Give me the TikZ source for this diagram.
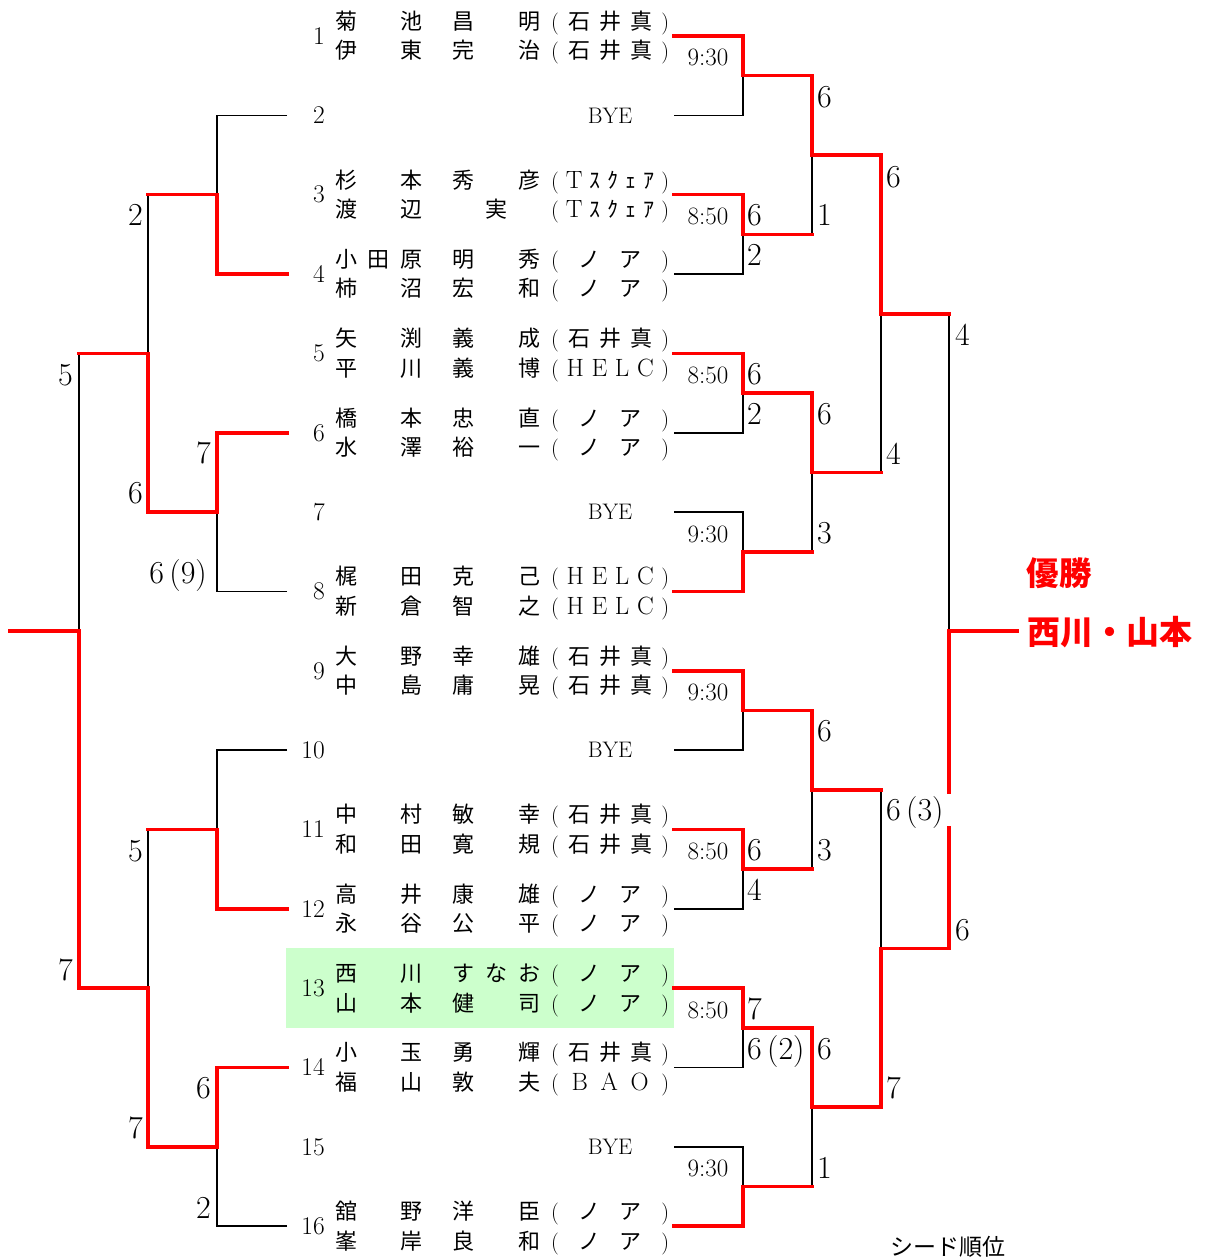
\documentclass[tikz,border=0pt]{standalone}
\usepackage{fontspec}
\newfontfamily\cjk{Noto Sans CJK JP}
\definecolor{winred}{RGB}{255,0,0}
\definecolor{seedgreen}{RGB}{204,255,204}
\newcommand\latn[1]{{\normalfont #1}}
\newcommand\latb[1]{{\normalfont\fontsize{25}{25}\selectfont #1}}
\newcommand\nmrow[3]{\makebox[87pt][s]{#1}\hspace{30pt}\makebox[88pt][s]{#2}\hspace{11pt}\makebox[118pt][s]{#3}}
\newcommand\clIs{\latn{(}\hfill 石\hfill 井\hfill 真\hfill\latn{)}}
\newcommand\clNo{\latn{(}\hfill ノ\hfill ア\hfill\latn{)}}
\newcommand\clHe{\latn{(}\hfill\latb{H}\hfill\latb{E}\hfill\latb{L}\hfill\latb{C}\hfill\latn{)}}
\newcommand\clTs{\latn{(}\hfill\latb{T}\hfill ｽ\hfill ｸ\hfill ｪ\hfill ｱ\hfill\latn{)}}
\newcommand\clBa{\latn{(}\hfill\latb{B}\hfill\latb{A}\hfill\latb{O}\hfill\latn{)}}
\tikzset{
  nm/.style={anchor=base west, inner sep=0pt, font=\cjk\fontsize{22}{22}\selectfont},
  num/.style={anchor=base east, inner sep=0pt, font=\fontsize{25.5}{25.5}\selectfont},
  byelab/.style={anchor=base, inner sep=0pt, font=\fontsize{22.5}{22.5}\selectfont},
  tm/.style={anchor=base, inner sep=0pt, font=\fontsize{25}{25}\selectfont},
  scr/.style={anchor=base west, inner sep=0pt, font=\fontsize{32}{32}\selectfont},
  scl/.style={anchor=base east, inner sep=0pt, font=\fontsize{32}{32}\selectfont},
  blk/.style={draw=black, line width=1.6pt},
  win/.style={draw=winred, line width=3.6pt, line cap=rect},
}
\newcommand\entpair[7]{%
  \pgfmathsetmacro\yk{36+79.35*(#1-1)}%
  \node[nm] (n#1a) at (335,\yk-6.6) {\nmrow{#2}{#3}{#4}};
  \node[nm] (n#1b) at (335,\yk+22.9) {\nmrow{#5}{#6}{#7}};
  \node[num] (k#1) at (325,\yk+8.3) {#1};
}
\newcommand\entbye[1]{%
  \pgfmathsetmacro\yk{36+79.35*(#1-1)}%
  \node[byelab] (b#1) at (610,\yk+7.7) {BYE};
  \node[num] (k#1) at (325,\yk+8.3) {#1};
}
\begin{document}
\begin{tikzpicture}[x=1pt,y=-1pt]
\useasboundingbox (0,0) rectangle (1204,1260);
\fill[white] (0,0) rectangle (1204,1260);
% seed highlight
\fill[seedgreen] (286,948) rectangle (674,1028);
% entry end points
\foreach \k in {1,...,16}{
  \pgfmathsetmacro\yy{36+79.35*(\k-1)}
  \coordinate (R\k) at (674,\yy);
  \coordinate (L\k) at (287,\yy);
}
% right side match points
\coordinate (A) at (743,75.7);
\coordinate (B) at (743,234.4);
\coordinate (C) at (743,393.1);
\coordinate (D) at (743,551.8);
\coordinate (E) at (743,710.5);
\coordinate (F) at (743,869.2);
\coordinate (G) at (743,1027.9);
\coordinate (H) at (743,1186.6);
\coordinate (AB) at (812,155.05);
\coordinate (CD) at (812,472.45);
\coordinate (EF) at (812,789.85);
\coordinate (GH) at (812,1107.25);
\coordinate (T) at (881,313.75);
\coordinate (U) at (881,948.55);
\coordinate (W) at (949,631.15);
\coordinate (Champ) at (1017,631.15);
\coordinate (gapA) at (949,828);
\coordinate (gapB) at (949,792);
% left side match points
\coordinate (La) at (217,194.7);
\coordinate (Lb) at (217,512.1);
\coordinate (Lc) at (217,829.5);
\coordinate (Ld) at (217,1146.9);
\coordinate (Lab) at (148,353.4);
\coordinate (Lcd) at (148,988.2);
\coordinate (LW) at (79,631.1);
\coordinate (LC) at (10,631.1);
% ---- black (losing) lines
\draw[blk] (R2) -| (A);
\draw[blk] (R4) -| (B);
\draw[blk] (R6) -| (C);
\draw[blk] (R7) -| (D);
\draw[blk] (R10) -| (E);
\draw[blk] (R12) -| (F);
\draw[blk] (R14) -| (G);
\draw[blk] (R15) -| (H);
\draw[blk] (B -| AB) -- (AB);
\draw[blk] (D -| CD) -- (CD);
\draw[blk] (F -| EF) -- (EF);
\draw[blk] (H -| GH) -- (GH);
\draw[blk] (CD -| T) -- (T);
\draw[blk] (EF -| U) -- (U);
\draw[blk] (T -| W) -- (W);
\draw[blk] (L2) -| (La);
\draw[blk] (L8) -| (Lb);
\draw[blk] (L10) -| (Lc);
\draw[blk] (L16) -| (Ld);
\draw[blk] (La -| Lab) -- (Lab);
\draw[blk] (Lc -| Lcd) -- (Lcd);
\draw[blk] (Lab -| LW) -- (LW);
% ---- red (winning) lines
\draw[win] (R1) -| (A) -- (A -| AB);
\draw[win] (R3) -| (B) -- (B -| AB);
\draw[win] (R5) -| (C) -- (C -| CD);
\draw[win] (R8) -| (D) -- (D -| CD);
\draw[win] (R9) -| (E) -- (E -| EF);
\draw[win] (R11) -| (F) -- (F -| EF);
\draw[win] (R13) -| (G) -- (G -| GH);
\draw[win] (R16) -| (H) -- (H -| GH);
\draw[win] (A -| AB) -- (AB) -- (AB -| T);
\draw[win] (C -| CD) -- (CD) -- (CD -| T);
\draw[win] (E -| EF) -- (EF) -- (EF -| U);
\draw[win] (G -| GH) -- (GH) -- (GH -| U);
\draw[win] (AB -| T) -- (T) -- (T -| W);
\draw[win] (GH -| U) -- (U) -- (U -| W);
\draw[win] (U -| W) -- (gapA);
\draw[win] (gapB) -- (W) -- (Champ);
\draw[win] (L4) -| (La) -- (La -| Lab);
\draw[win] (L6) -| (Lb) -- (Lb -| Lab);
\draw[win] (L12) -| (Lc) -- (Lc -| Lcd);
\draw[win] (L14) -| (Ld) -- (Ld -| Lcd);
\draw[win] (Lb -| Lab) -- (Lab) -- (Lab -| LW);
\draw[win] (Ld -| Lcd) -- (Lcd) -- (Lcd -| LW);
\draw[win] (Lcd -| LW) -- (LW) -- (LC);
% ---- entries
\entpair{1}{菊\hfill 池}{昌\hfill 明}{\clIs}{伊\hfill 東}{完\hfill 治}{\clIs}
\entbye{2}
\entpair{3}{杉\hfill 本}{秀\hfill 彦}{\clTs}{渡\hfill 辺}{\hfill 実\hfill}{\clTs}
\entpair{4}{小\hfill 田\hfill 原}{明\hfill 秀}{\clNo}{柿\hfill 沼}{宏\hfill 和}{\clNo}
\entpair{5}{矢\hfill 渕}{義\hfill 成}{\clIs}{平\hfill 川}{義\hfill 博}{\clHe}
\entpair{6}{橋\hfill 本}{忠\hfill 直}{\clNo}{水\hfill 澤}{裕\hfill 一}{\clNo}
\entbye{7}
\entpair{8}{梶\hfill 田}{克\hfill 己}{\clHe}{新\hfill 倉}{智\hfill 之}{\clHe}
\entpair{9}{大\hfill 野}{幸\hfill 雄}{\clIs}{中\hfill 島}{庸\hfill 晃}{\clIs}
\entbye{10}
\entpair{11}{中\hfill 村}{敏\hfill 幸}{\clIs}{和\hfill 田}{寛\hfill 規}{\clIs}
\entpair{12}{高\hfill 井}{康\hfill 雄}{\clNo}{永\hfill 谷}{公\hfill 平}{\clNo}
\entpair{13}{西\hfill 川}{す\hfill な\hfill お}{\clNo}{山\hfill 本}{健\hfill 司}{\clNo}
\entpair{14}{小\hfill 玉}{勇\hfill 輝}{\clIs}{福\hfill 山}{敦\hfill 夫}{\clBa}
\entbye{15}
\entpair{16}{舘\hfill 野}{洋\hfill 臣}{\clNo}{峯\hfill 岸}{良\hfill 和}{\clNo}
% ---- times
\node[tm] (tA) at (708,66) {9:30};
\node[tm] (tB) at (708,224.7) {8:50};
\node[tm] (tC) at (708,383.4) {8:50};
\node[tm] (tD) at (708,542.1) {9:30};
\node[tm] (tE) at (708,700.8) {9:30};
\node[tm] (tF) at (708,859.5) {8:50};
\node[tm] (tG) at (708,1018.2) {8:50};
\node[tm] (tH) at (708,1176.9) {9:30};
% ---- scores right
\node[scr] (sB1) at (747,225.8) {6};
\node[scr] (sB2) at (747,265.8) {2};
\node[scr] (sC1) at (747,384.5) {6};
\node[scr] (sC2) at (747,424.5) {2};
\node[scr] (sF1) at (747,860.6) {6};
\node[scr] (sF2) at (747,900.6) {4};
\node[scr] (sG1) at (747,1019.4) {7};
\node[scr] (sG2) at (747,1059.4) {6\,(2)};
\node[scr] (sAB1) at (817,107.1) {6};
\node[scr] (sAB2) at (817,225.8) {1};
\node[scr] (sCD1) at (817,424.4) {6};
\node[scr] (sCD2) at (817,543.4) {3};
\node[scr] (sEF1) at (817,741.9) {6};
\node[scr] (sEF2) at (817,860.4) {3};
\node[scr] (sGH1) at (817,1059.4) {6};
\node[scr] (sGH2) at (817,1178.4) {1};
\node[scr] (sT1) at (886,187.4) {6};
\node[scr] (sT2) at (886,464.4) {4};
\node[scr] (sU1) at (886,820.4) {6\,(3)};
\node[scr] (sU2) at (886,1098.4) {7};
\node[scr] (sW1) at (955,345.4) {4};
\node[scr] (sW2) at (955,940.4) {6};
% ---- scores left
\node[scl] (sLb1) at (211,463.4) {7};
\node[scl] (sLb2) at (207,583.4) {6\,(9)};
\node[scl] (sLd1) at (211,1098.4) {6};
\node[scl] (sLd2) at (211,1218.4) {2};
\node[scl] (sLab1) at (143,225.4) {2};
\node[scl] (sLab2) at (143,503.4) {6};
\node[scl] (sLcd1) at (143,861.4) {5};
\node[scl] (sLcd2) at (143,1138.4) {7};
\node[scl] (sLW1) at (73,385.4) {5};
\node[scl] (sLW2) at (73,980.4) {7};
% ---- champion
\node[inner sep=0pt, text=winred, font=\cjk\bfseries\fontsize{32.5}{32.5}\selectfont] (yusho) at (1059,573) {優勝};
\node[inner sep=0pt, text=winred, font=\cjk\bfseries\fontsize{33}{33}\selectfont] (champname) at (1110,632) {西川・山本};
\node[inner sep=0pt, font=\cjk\fontsize{23}{23}\selectfont] (seednote) at (948,1247) {シード順位};
\end{tikzpicture}
\end{document}
